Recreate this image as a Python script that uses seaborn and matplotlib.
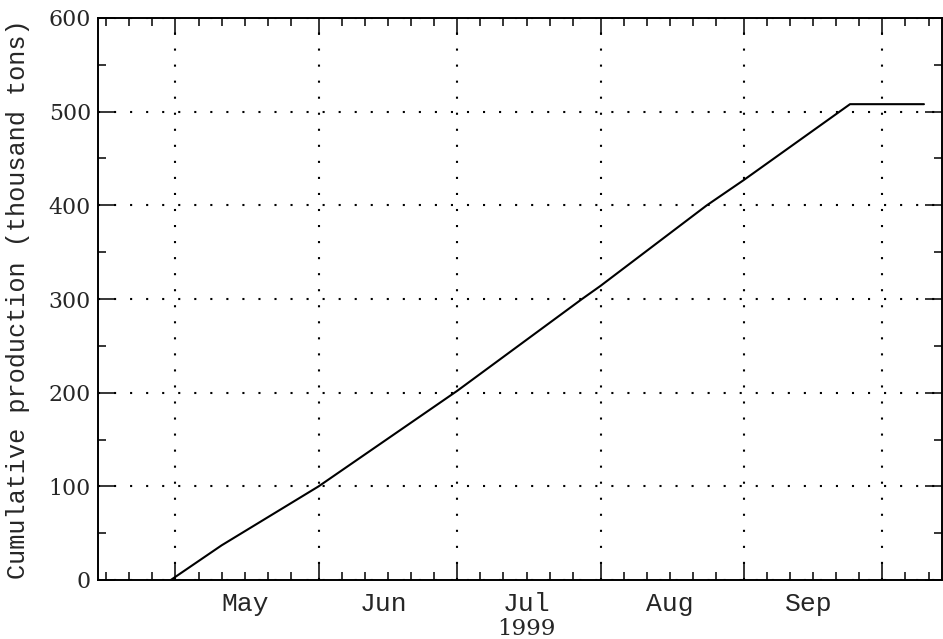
import matplotlib
matplotlib.use("Agg")
import matplotlib.pyplot as plt
import matplotlib.dates as mdates
import matplotlib.transforms as mtransforms
from matplotlib.ticker import MultipleLocator, NullFormatter, FixedFormatter, FixedLocator
import seaborn as sns
import pandas as pd

# ---- data ----
dates = ["1999-04-30", "1999-05-11", "1999-06-01", "1999-06-21", "1999-07-01",
         "1999-07-28", "1999-08-01", "1999-08-24", "1999-09-01", "1999-09-24",
         "1999-10-10"]
production = [0, 37, 100, 168, 202, 300, 314, 400, 427, 508, 508]
month_labels = ["May", "Jun", "Jul", "Aug", "Sep"]
month_label_dates = ["1999-05-16", "1999-06-15", "1999-07-16", "1999-08-16", "1999-09-15"]
year_label = "1999"
year_label_date = "1999-07-16"
y_ticks = [0, 100, 200, 300, 400, 500, 600]
y_tick_labels = ["0", "100", "200", "300", "400", "500", "600"]
x_limits = ["1999-04-14 06:00", "1999-10-13 22:00"]
ylabel = "Cumulative production (thousand tons)"

df = pd.DataFrame({"date": pd.to_datetime(dates), "production": production})

sns.set_style("ticks")
plt.rcParams["font.family"] = ["Liberation Mono", "DejaVu Sans"]

fig = plt.figure(figsize=(9.43, 6.39), dpi=100)
ax = fig.add_axes([98 / 943, 1 - 580 / 639, 1 - 98 / 943 - 0.001, (580 - 18) / 639])

sns.lineplot(data=df, x="date", y="production", ax=ax, color="black", linewidth=1.5)

ax.set_xlim(pd.to_datetime(x_limits[0]), pd.to_datetime(x_limits[1]))
ax.set_ylim(y_ticks[0], y_ticks[-1])

ax.xaxis.set_major_locator(mdates.MonthLocator())
ax.xaxis.set_minor_locator(mdates.DayLocator(bymonthday=[6, 11, 16, 21, 26]))
ax.xaxis.set_major_formatter(NullFormatter())
ax.yaxis.set_major_locator(FixedLocator(y_ticks))
ax.yaxis.set_minor_locator(MultipleLocator(50))
ax.yaxis.set_major_formatter(FixedFormatter(y_tick_labels))

ax.tick_params(which="both", direction="in", top=True, right=True, color="black", width=1.1)
ax.tick_params(which="major", length=12)
ax.tick_params(which="minor", length=5.8)
ax.tick_params(axis="y", pad=5, labelsize=15.8, labelfontfamily="DejaVu Serif")

for s in ax.spines.values():
    s.set_visible(True)
    s.set_linewidth(1.4)
    s.set_color("black")

ax.grid(True, which="major", color="black", linestyle=(0, (1, 6.7)), linewidth=1.5)
ax.set_axisbelow(True)

ax.set_xlabel("")
ax.set_ylabel(ylabel, fontsize=18.2)
ax.yaxis.set_label_coords(-0.0805, 0.5)

trans = mtransforms.blended_transform_factory(ax.transData, ax.transAxes)
for lab, d in zip(month_labels, month_label_dates):
    ax.text(mdates.date2num(pd.to_datetime(d)), -0.022, lab, transform=trans,
            ha="center", va="top", fontsize=19)
ax.text(mdates.date2num(pd.to_datetime(year_label_date)), -0.068, year_label,
        transform=trans, ha="center", va="top", fontsize=16.5, family="DejaVu Serif")

fig.savefig("out.png", dpi=100, facecolor="white")
